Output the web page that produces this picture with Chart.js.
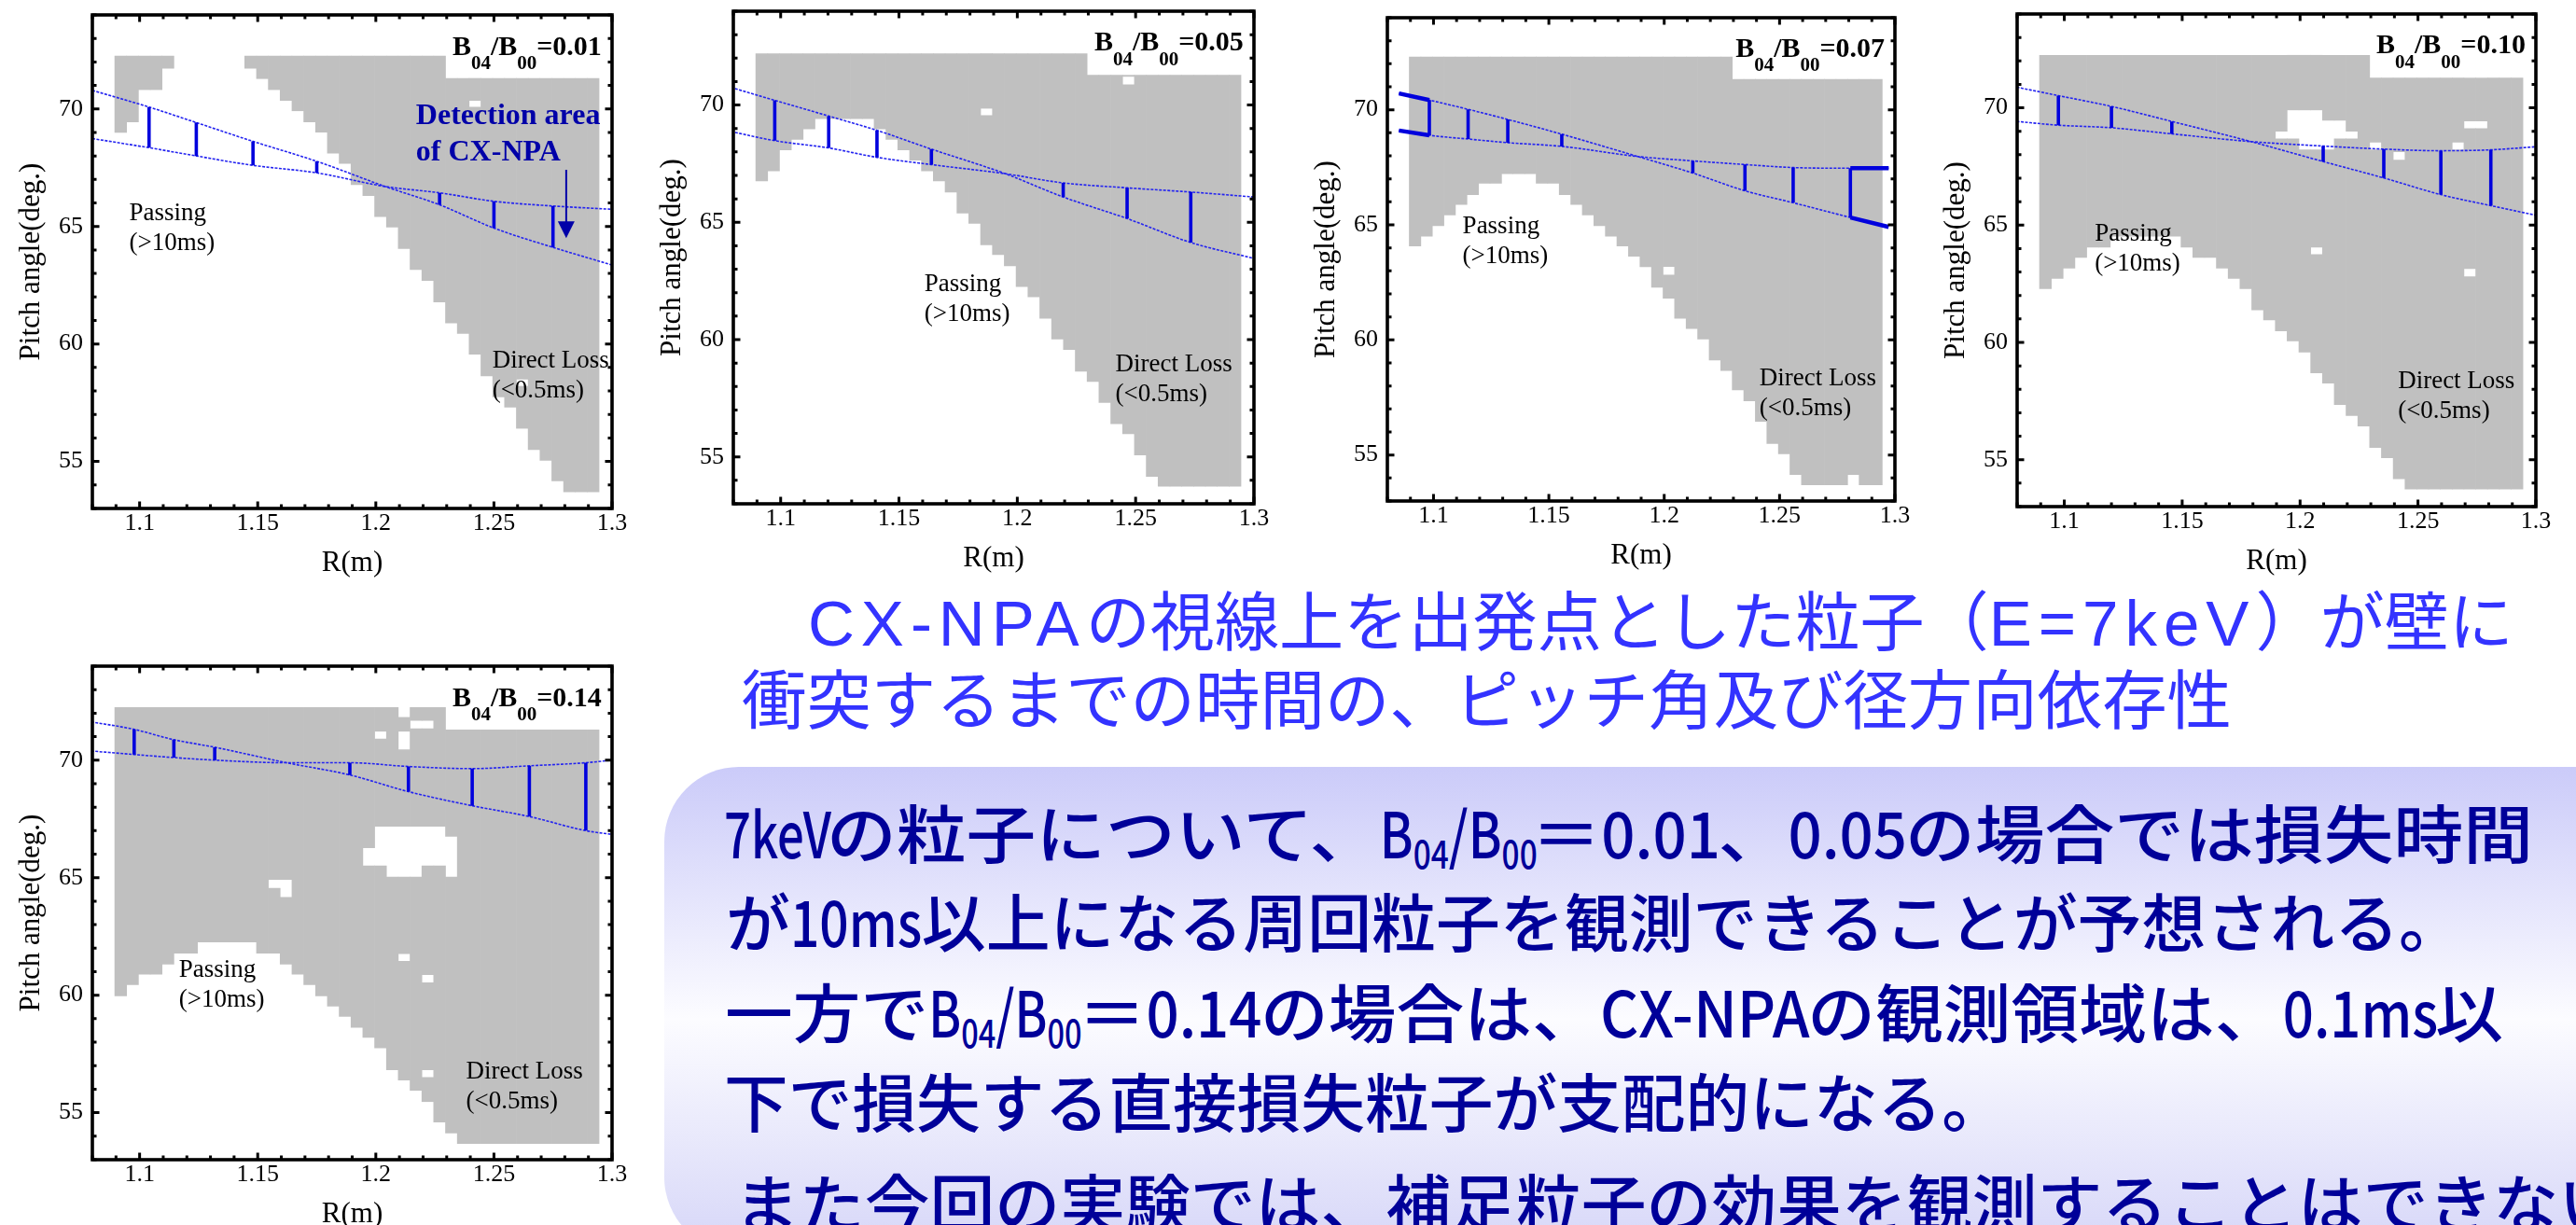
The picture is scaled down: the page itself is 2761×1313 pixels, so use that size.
<!DOCTYPE html>
<html>
<head>
<meta charset="utf-8">
<script src="https://cdn.jsdelivr.net/npm/chart.js@4.4.1/dist/chart.umd.min.js"></script>
<style>
html, body { margin: 0; padding: 0; background: #fff; }
body { width: 2761px; height: 1313px; position: relative; overflow: hidden; }
canvas.pn { position: absolute; }
.box { position: absolute; left: 712px; top: 822px; width: 2150px; height: 520px; border-radius: 80px;
  background: linear-gradient(to bottom, #cbcbf9 0%, #fcfcff 52%, #d6d6f8 100%); }
.ln { position: absolute; white-space: nowrap; transform-origin: 0 50%; }
.tt { font-family: "Liberation Sans", "Noto Sans CJK JP", sans-serif; font-size: 69px; line-height: 69px; color: #3333ff; }
.bd { font-family: "Noto Sans CJK JP", sans-serif; font-weight: 500; font-size: 68px; line-height: 68px; color: #000099; }
.bd sub { font-size: 0.62em; vertical-align: -0.27em; line-height: 0; }
.sp { letter-spacing: 0.1em; }
.nx { display: inline-block; transform-origin: 0 50%; }
</style>
</head>
<body>
<div class="box"></div>
<div class="ln tt" style="left:866px;top:634px" data-w="1828"><span class="sp">CX-NPA</span>の視線上を出発点とした粒子（<span class="sp">E=7keV</span>）が壁に</div>
<div class="ln tt" style="left:795px;top:718px" data-w="1597">衝突するまでの時間の、ピッチ角及び径方向依存性</div>
<div class="ln bd" style="left:776px;top:857px" data-w="1939"><span class="nx" data-s="0.68">7keV</span>の粒子について、<span class="nx" data-s="0.72">B<sub>04</sub>/B<sub>00</sub></span>＝<span class="nx" data-s="0.85">0.01</span>、<span class="nx" data-s="0.85">0.05</span>の場合では損失時間</div>
<div class="ln bd" style="left:778px;top:952px" data-w="1862">が<span class="nx" data-s="0.8">10ms</span>以上になる周回粒子を観測できることが予想される。</div>
<div class="ln bd" style="left:777px;top:1049px" data-w="1906">一方で<span class="nx" data-s="0.72">B<sub>04</sub>/B<sub>00</sub></span>＝<span class="nx" data-s="0.85">0.14</span>の場合は、<span class="nx" data-s="0.88">CX-NPA</span>の観測領域は、<span class="nx" data-s="0.8">0.1ms</span>以</div>
<div class="ln bd" style="left:776px;top:1145px" data-w="1374">下で損失する直接損失粒子が支配的になる。</div>
<div class="ln bd" style="left:787px;top:1253px" data-w="2025">また今回の実験では、補足粒子の効果を観測することはできない</div>

<script>
// R bins of the loss-time map (cell centres, 0.005 m wide)
const rBins = Array.from({length: 41}, (_, k) => +(1.092 + 0.005 * k).toFixed(4));

// grey = direct loss cells: per R bin lower / upper pitch edge (deg), holes = [bin, from, to]
const lo001 = [69.0, 69.45, 70.82, 70.82, 71.73, null, null, null, null, null, null,
  71.73, 71.29, 70.82, 70.36, 69.92, 69.45, 69.01, 68.12, 67.68, 66.78, 66.31, 65.42, 64.97, 64.06, 63.17,
  62.70, 61.79, 60.89, 60.45, 59.56, 58.64, 57.75, 57.31, 56.41, 55.50, 55.05, 54.17, 53.71, 53.71, 53.71];
const hi001 = [72.25, 72.25, 72.25, 72.25, 72.25, null, null, null, null, null, null,
  72.25, 72.25, 72.25, 72.25, 72.25, 72.25, 72.25, 72.25, 72.25, 72.25, 72.25, 72.25, 72.25, 72.25, 72.25, 72.25, 72.25,
  71.3, 71.3, 71.3, 71.3, 71.3, 71.3, 71.3, 71.3, 71.3, 71.3, 71.3, 71.3, 71.3];
const holes001 = [[30, 70.08, 70.36], [34, 58.2, 58.5]];

const lo005 = [66.76, 67.19, 68.09, 68.53, 68.98, 69.42, 69.42, 69.42, 69.42, 69.42,
  68.98, 68.53, 68.09, 67.65, 67.19, 66.76, 66.29, 65.39, 64.95, 64.04,
  63.62, 63.15, 62.26, 61.82, 60.91, 60.02, 59.58, 58.65, 58.21, 57.32,
  56.41, 55.99, 55.08, 54.17, 53.75, 53.75, 53.75, 53.75, 53.75, 53.75, 53.75];
const hi005 = [72.19, 72.19, 72.19, 72.19, 72.19, 72.19, 72.19, 72.19, 72.19, 72.19, 72.19, 72.19, 72.19, 72.19,
  72.19, 72.19, 72.19, 72.19, 72.19, 72.19, 72.19, 72.19, 72.19, 72.19, 72.19, 72.19, 72.19, 72.19,
  71.27, 71.27, 71.27, 71.27, 71.27, 71.27, 71.27, 71.27, 71.27, 71.27, 71.27, 71.27, 71.27];
const holes005 = [[19, 69.55, 69.86], [31, 70.86, 71.22]];

const lo007 = [64.08, 64.51, 64.96, 65.43, 65.88, 66.31, 66.81, 66.81, 67.22, 67.22,
  67.22, 66.81, 66.81, 66.31, 65.88, 65.43, 64.96, 64.51, 64.08, 63.63,
  63.18, 62.29, 61.81, 60.94, 60.49, 60.04, 59.12, 58.67, 57.83, 57.35,
  56.46, 55.50, 55.05, 54.15, 53.70, 53.70, 53.70, 53.70, 54.15, 53.70, 53.70];
const hi007 = [72.29, 72.29, 72.29, 72.29, 72.29, 72.29, 72.29, 72.29, 72.29, 72.29, 72.29, 72.29, 72.29, 72.29,
  72.29, 72.29, 72.29, 72.29, 72.29, 72.29, 72.29, 72.29, 72.29, 72.29, 72.29, 72.29, 72.29, 72.29,
  71.32, 71.32, 71.32, 71.32, 71.32, 71.32, 71.32, 71.32, 71.32, 71.32, 71.32, 71.32, 71.32];
const holes007 = [[22, 62.82, 63.19]];

const lo010 = [62.29, 62.73, 63.17, 63.62, 64.06, 64.06, 64.53, 64.53, 64.53, 64.53,
  64.53, 64.53, 64.06, 63.62, 63.62, 63.17, 62.73, 62.29, 61.39, 60.96,
  60.49, 60.06, 59.59, 58.70, 58.26, 57.35, 56.88, 56.43, 55.52, 55.08,
  54.19, 53.75, 53.75, 53.75, 53.75, 53.75, 53.75, 53.75, 53.75, 53.75, 53.75];
const hi010 = [72.24, 72.24, 72.24, 72.24, 72.24, 72.24, 72.24, 72.24, 72.24, 72.24, 72.24, 72.24, 72.24, 72.24,
  72.24, 72.24, 72.24, 72.24, 72.24, 72.24, 72.24, 72.24, 72.24, 72.24, 72.24, 72.24, 72.24, 72.24,
  71.27, 71.27, 71.27, 71.27, 71.27, 71.27, 71.27, 71.27, 71.27, 71.27, 71.27, 71.27, 71.27];
const holes010 = [[20, 68.68, 69.0], [21, 68.68, 69.91], [22, 68.21, 69.91], [23, 68.21, 69.91],
  [24, 68.21, 69.47], [25, 68.68, 69.47], [26, 68.68, 69.0], [28, 68.21, 68.53], [30, 67.77, 68.13],
  [35, 68.21, 68.53], [36, 69.11, 69.44], [37, 69.11, 69.44], [23, 63.75, 64.06], [36, 62.8, 63.15]];

const lo014 = [59.97, 60.45, 60.89, 60.89, 61.32, 61.79, 61.79, 62.26, 62.26, 62.26,
  62.26, 62.26, 61.79, 61.79, 61.32, 60.89, 60.45, 59.97, 59.53, 59.10,
  58.63, 58.20, 57.76, 56.82, 56.39, 55.95, 55.47, 54.60, 54.13, 53.69,
  53.69, 53.69, 53.69, 53.69, 53.69, 53.69, 53.69, 53.69, 53.69, 53.69, 53.69];
const hi014 = [72.24, 72.24, 72.24, 72.24, 72.24, 72.24, 72.24, 72.24, 72.24, 72.24, 72.24, 72.24, 72.24, 72.24,
  72.24, 72.24, 72.24, 72.24, 72.24, 72.24, 72.24, 72.24, 72.24, 72.24, 72.24, 72.24, 72.24, 72.24,
  71.29, 71.29, 71.29, 71.29, 71.29, 71.29, 71.29, 71.29, 71.29, 71.29, 71.29, 71.29, 71.29];
const holes014 = [[24, 71.82, 72.24], [24, 70.44, 71.23], [25, 71.34, 71.69], [26, 71.34, 71.69], [22, 70.90, 71.23],
  [21, 65.50, 66.27], [22, 65.50, 67.19], [23, 65.03, 67.19], [24, 65.03, 67.19], [25, 65.03, 67.19],
  [26, 65.50, 67.19], [27, 65.50, 67.19], [28, 65.03, 66.76], [13, 64.55, 64.92], [14, 64.16, 64.92],
  [24, 61.44, 61.77], [26, 60.53, 60.87], [26, 56.50, 56.82]];

// CX-NPA line of sight: two boundary curves, rungs at the listed indices
const curveR001 = [1.08, 1.104, 1.124, 1.148, 1.175, 1.204, 1.227, 1.25, 1.275, 1.3];
const steep001 = [70.79, 70.08, 69.42, 68.62, 67.77, 66.7, 65.92, 64.93, 64.11, 63.36];
const flat001 = [68.74, 68.35, 68.0, 67.6, 67.28, 66.7, 66.43, 66.07, 65.87, 65.73];
const rungs001 = [1, 2, 3, 4, 6, 7, 8];

const curveR005 = [1.079, 1.0975, 1.1203, 1.1407, 1.1637, 1.195, 1.2194, 1.2464, 1.2733, 1.3];
const steep005 = [70.75, 70.2, 69.53, 68.92, 68.12, 67.07, 66.08, 65.16, 64.14, 63.46];
const flat005 = [68.87, 68.48, 68.17, 67.77, 67.46, 67.07, 66.68, 66.47, 66.29, 66.08];
const rungs005 = [1, 2, 3, 4, 6, 7, 8];

const curveR007 = [1.085, 1.0982, 1.115, 1.1322, 1.1556, 1.1885, 1.2124, 1.235, 1.2559, 1.2807, 1.2973];
const steep007 = [70.71, 70.42, 70.02, 69.58, 68.94, 67.97, 67.25, 66.48, 65.96, 65.32, 64.91];
const flat007 = [69.1, 68.89, 68.73, 68.57, 68.41, 67.97, 67.78, 67.62, 67.49, 67.46, 67.46];
const rungs007 = [1, 2, 3, 4, 6, 7, 8, 9];

const curveR010 = [1.0798, 1.0975, 1.12, 1.1456, 1.1792, 1.2098, 1.2355, 1.2597, 1.2809, 1.3];
const steep010 = [70.88, 70.52, 70.06, 69.42, 68.56, 67.71, 67.01, 66.3, 65.83, 65.42];
const flat010 = [69.42, 69.26, 69.15, 68.89, 68.56, 68.37, 68.24, 68.17, 68.21, 68.34];
const rungs010 = [1, 2, 3, 5, 6, 7, 8];

const curveR014 = [1.0795, 1.0977, 1.1145, 1.1318, 1.1622, 1.189, 1.2138, 1.2408, 1.265, 1.2889, 1.3];
const steep014 = [71.63, 71.31, 70.87, 70.55, 69.89, 69.37, 68.66, 68.06, 67.6, 67.0, 66.84];
const flat014 = [70.39, 70.24, 70.11, 70.0, 69.89, 69.89, 69.73, 69.64, 69.76, 69.89, 70.0];
const rungs014 = [1, 2, 3, 5, 6, 7, 8, 9];

const ratios = ['0.01', '0.05', '0.07', '0.10', '0.14'];
const xTicksMajor = 0.05, yTicksMajor = 5;

// where the region labels sit, in data coordinates [R, pitch]
const passingAt = [[1.0956, 65.56], [1.1607, 62.37], [1.1126, 64.91], [1.1129, 64.61], [1.1166, 61.05]];
const lossAt = [[1.2493, 59.27], [1.2415, 58.92], [1.2413, 58.31], [1.2415, 58.34], [1.2382, 56.74]];
const ratioAt = [1.2956, 72.62];
const detectAt = [1.217, 69.69];
const arrowAt = [1.2806, 67.41, 64.5];

const panels = [
  {lo: lo001, hi: hi001, holes: holes001, cR: curveR001, steep: steep001, flat: flat001, rungs: rungs001, detect: true},
  {lo: lo005, hi: hi005, holes: holes005, cR: curveR005, steep: steep005, flat: flat005, rungs: rungs005},
  {lo: lo007, hi: hi007, holes: holes007, cR: curveR007, steep: steep007, flat: flat007, rungs: rungs007, thickEnds: true},
  {lo: lo010, hi: hi010, holes: holes010, cR: curveR010, steep: steep010, flat: flat010, rungs: rungs010},
  {lo: lo014, hi: hi014, holes: holes014, cR: curveR014, steep: steep014, flat: flat014, rungs: rungs014}
];

// page placement of each plot frame
const frames = [
  {l: 99, t: 16, w: 557, h: 529},
  {l: 786, t: 12, w: 558, h: 528},
  {l: 1487, t: 19, w: 544, h: 518},
  {l: 2162, t: 15, w: 556, h: 528},
  {l: 99, t: 714, w: 557, h: 529}
];
const AXW = 99, AXH = 95, PADT = 10, PADR = 40;

Chart.defaults.font.family = '"Liberation Serif", "Times New Roman", serif';
Chart.defaults.color = '#000';

function onStep(v, step) {
  const q = v / step;
  return Math.abs(q - Math.round(q)) < 1e-6;
}

function cells(p) {
  const out = [];
  rBins.forEach((r, k) => {
    if (p.lo[k] == null) return;
    let iv = [[p.lo[k], p.hi[k]]];
    p.holes.filter(h => h[0] === k).forEach(([, a, b]) => {
      const next = [];
      iv.forEach(([l, h]) => {
        if (b <= l || a >= h) { next.push([l, h]); return; }
        if (a > l) next.push([l, a]);
        if (b < h) next.push([b, h]);
      });
      iv = next;
    });
    iv.forEach(v => out.push({x: r, y: v}));
  });
  return out;
}

function drawRatio(ctx, ratio, xr, yc) {
  const parts = [['B', 0], ['04', 1], ['/B', 0], ['00', 1], ['=' + ratio, 0]];
  const big = 'bold 30px "Liberation Serif"', small = 'bold 21px "Liberation Serif"';
  let w = 0;
  parts.forEach(([t, s]) => { ctx.font = s ? small : big; w += ctx.measureText(t).width; });
  let xx = xr - w;
  ctx.textAlign = 'left';
  ctx.textBaseline = 'middle';
  parts.forEach(([t, s]) => {
    ctx.font = s ? small : big;
    ctx.fillText(t, xx, s ? yc + 18 : yc);
    xx += ctx.measureText(t).width;
  });
}

function decorate(chart, i) {
  const {ctx, chartArea: a, scales: {x, y}} = chart;
  const p = panels[i];
  ctx.save();
  ctx.strokeStyle = '#000';
  ctx.lineWidth = 3;
  ctx.beginPath();
  x.ticks.forEach(t => {
    const px = x.getPixelForValue(t.value);
    const L = onStep(t.value, xTicksMajor) ? 7.5 : 4.5;
    ctx.moveTo(px, a.bottom); ctx.lineTo(px, a.bottom - L);
    ctx.moveTo(px, a.top); ctx.lineTo(px, a.top + L);
  });
  y.ticks.forEach(t => {
    const py = y.getPixelForValue(t.value);
    const L = onStep(t.value, yTicksMajor) ? 7.5 : 4.5;
    ctx.moveTo(a.left, py); ctx.lineTo(a.left + L, py);
    ctx.moveTo(a.right, py); ctx.lineTo(a.right - L, py);
  });
  ctx.stroke();
  ctx.lineWidth = 3.6;
  ctx.strokeRect(a.left, a.top, a.width, a.height);

  ctx.fillStyle = '#000';
  ctx.font = '27px "Liberation Serif"';
  ctx.textAlign = 'left';
  ctx.textBaseline = 'middle';
  let X = x.getPixelForValue(passingAt[i][0]), Y = y.getPixelForValue(passingAt[i][1]);
  ctx.fillText('Passing', X, Y);
  ctx.fillText('(>10ms)', X, Y + 32);
  X = x.getPixelForValue(lossAt[i][0]); Y = y.getPixelForValue(lossAt[i][1]);
  ctx.fillText('Direct Loss', X, Y);
  ctx.fillText('(<0.5ms)', X, Y + 32);

  drawRatio(ctx, ratios[i], x.getPixelForValue(ratioAt[0]), y.getPixelForValue(ratioAt[1]));

  if (p.detect) {
    ctx.fillStyle = '#0000a8';
    ctx.strokeStyle = '#0000a8';
    ctx.font = 'bold 32px "Liberation Serif"';
    X = x.getPixelForValue(detectAt[0]); Y = y.getPixelForValue(detectAt[1]);
    ctx.fillText('Detection area', X, Y);
    ctx.fillText('of CX-NPA', X, Y + 39);
    const ax = x.getPixelForValue(arrowAt[0]);
    const y0 = y.getPixelForValue(arrowAt[1]), y1 = y.getPixelForValue(arrowAt[2]);
    ctx.lineWidth = 2;
    ctx.beginPath(); ctx.moveTo(ax, y0); ctx.lineTo(ax, y1 - 16); ctx.stroke();
    ctx.beginPath(); ctx.moveTo(ax - 9, y1 - 18); ctx.lineTo(ax + 9, y1 - 18); ctx.lineTo(ax, y1); ctx.closePath(); ctx.fill();
  }
  ctx.restore();
}

panels.forEach((p, i) => {
  const f = frames[i];
  const cv = document.createElement('canvas');
  cv.className = 'pn';
  const cw = AXW + f.w + PADR, ch = PADT + f.h + AXH;
  cv.width = cw; cv.height = ch;
  cv.style.left = (f.l - AXW) + 'px';
  cv.style.top = (f.t - PADT) + 'px';
  cv.style.width = cw + 'px';
  cv.style.height = ch + 'px';
  document.body.appendChild(cv);

  const lineStyle = {type: 'line', pointRadius: 0, fill: false, borderColor: '#2424f0', borderWidth: 1.6,
    borderDash: [3, 1.5], cubicInterpolationMode: 'monotone', order: 2};
  const upper = p.cR.map((r, j) => ({x: r, y: p.steep[j]}));
  const lower = p.cR.map((r, j) => ({x: r, y: p.flat[j]}));
  const rungPts = [];
  p.rungs.forEach(j => {
    rungPts.push({x: p.cR[j], y: p.flat[j]}, {x: p.cR[j], y: p.steep[j]}, {x: p.cR[j], y: null});
  });
  const datasets = [
    {type: 'line', data: rungPts, borderColor: '#0000dd', borderWidth: 3.6, pointRadius: 0,
      borderCapStyle: 'butt', spanGaps: false, order: 1},
    Object.assign({data: upper}, lineStyle),
    Object.assign({data: lower}, lineStyle),
    {type: 'bar', data: cells(p), backgroundColor: '#c0c0c0', borderWidth: 0,
      barPercentage: 1, categoryPercentage: 1, order: 3}
  ];
  if (p.thickEnds) {
    const n = p.cR.length;
    [[0, 1], [n - 2, n - 1]].forEach(([a, b]) => {
      [p.steep, p.flat].forEach(c => {
        datasets.push({type: 'line', data: [{x: p.cR[a], y: c[a]}, {x: p.cR[b], y: c[b]}],
          borderColor: '#0000dd', borderWidth: 4.5, pointRadius: 0, order: 1});
      });
    });
  }

  new Chart(cv, {
    type: 'bar',
    data: {datasets},
    options: {
      responsive: false,
      animation: false,
      devicePixelRatio: 1,
      layout: {padding: {left: 0, top: PADT, right: PADR, bottom: 0}},
      plugins: {legend: {display: false}, tooltip: {enabled: false}},
      scales: {
        x: {
          type: 'linear', min: 1.08, max: 1.3, offset: false,
          grid: {display: false, drawTicks: false}, border: {display: false},
          ticks: {stepSize: 0.01, autoSkip: false, maxRotation: 0, padding: 1, font: {size: 26},
            callback: v => onStep(v, xTicksMajor) ? String(+v.toFixed(2)) : ''},
          title: {display: true, text: 'R(m)', font: {size: 31}, padding: {top: 0, bottom: 18}},
          afterFit: s => { s.height = AXH; s.paddingLeft = 0; s.paddingRight = 0; }
        },
        y: {
          type: 'linear', min: 53, max: 74,
          grid: {display: false, drawTicks: false}, border: {display: false},
          ticks: {stepSize: 1, autoSkip: false, padding: 10, font: {size: 26},
            callback: v => onStep(v, yTicksMajor) ? String(v) : ''},
          title: {display: true, text: 'Pitch angle(deg.)', font: {size: 31}, padding: {top: 15, bottom: 0}},
          afterFit: s => { s.width = AXW; s.paddingTop = 0; s.paddingBottom = 0; }
        }
      }
    },
    plugins: [{id: 'deco' + i, afterDraw: chart => decorate(chart, i)}]
  });
});

// narrow the Latin runs of the body text, then stretch each line to its width in the slide
function fitLines() {
  document.querySelectorAll('.nx').forEach(el => {
    el.style.transform = '';
    el.style.marginRight = '0px';
    const w = el.getBoundingClientRect().width;
    const s = +el.dataset.s;
    el.style.transform = 'scaleX(' + s + ')';
    el.style.marginRight = (-(1 - s) * w) + 'px';
  });
  document.querySelectorAll('.ln[data-w]').forEach(el => {
    el.style.transform = '';
    const w = el.getBoundingClientRect().width;
    el.style.transform = 'scaleX(' + (+el.dataset.w / w) + ')';
  });
}
fitLines();
if (document.fonts && document.fonts.ready) document.fonts.ready.then(fitLines);
</script>
</body>
</html>
